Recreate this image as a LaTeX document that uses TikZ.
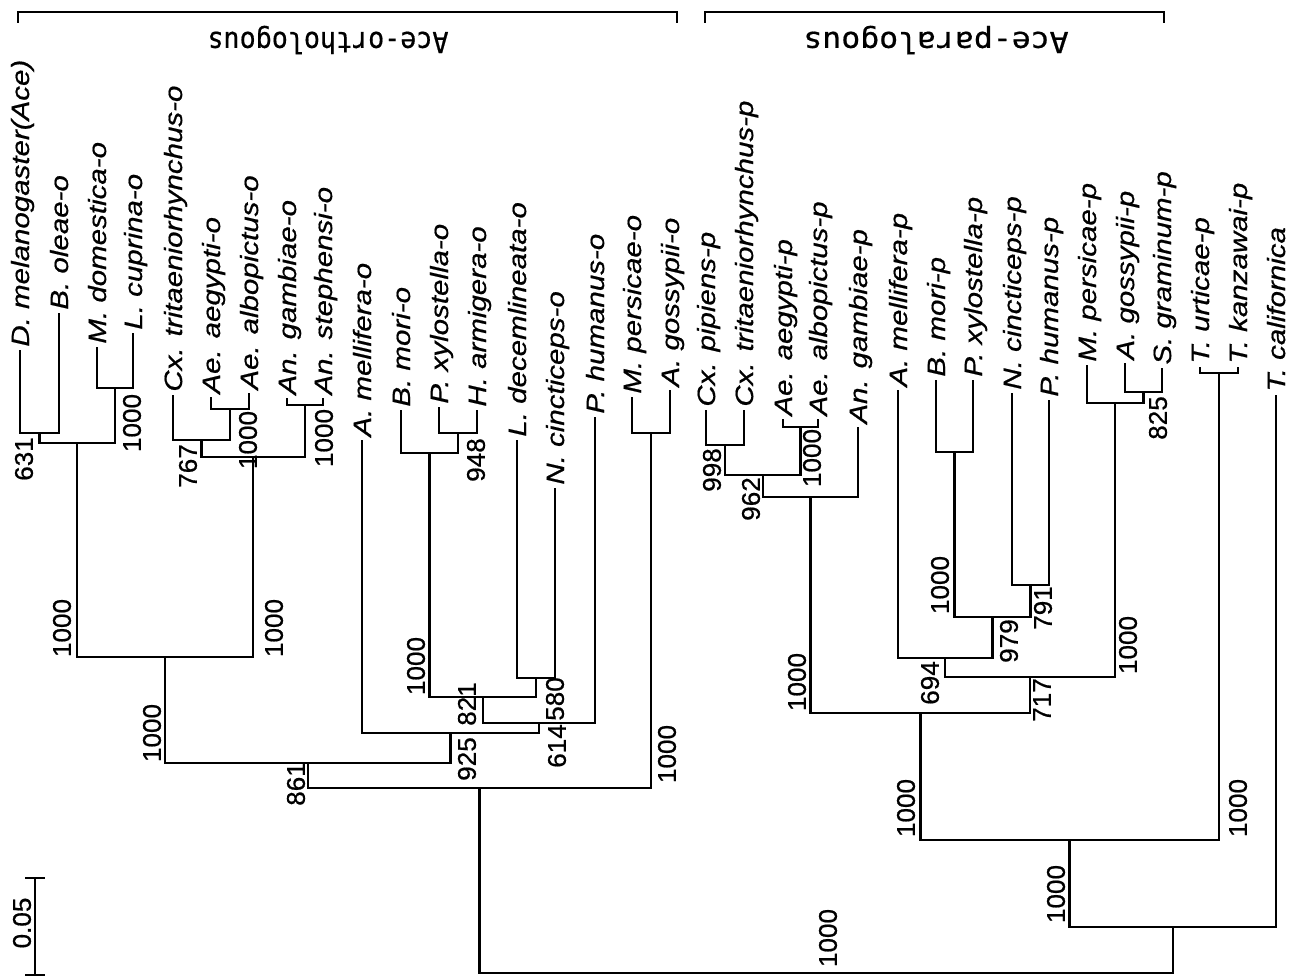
\documentclass[tikz,border=0pt]{standalone}
\usepackage{fontspec}
\setmainfont{Liberation Sans}
\newfontfamily\labfam{Liberation Sans}[FakeBold=0.6]
\newfontfamily\monofam{DejaVu Sans Mono}[FakeBold=0.6]
\usetikzlibrary{calc}
\newcommand\spfont{\labfam\fontsize{12.5}{14}\selectfont\itshape}
\newcommand\numfont{\labfam\fontsize{12.8}{14}\selectfont}
\newcommand\splab[1]{\scalebox{1.18}[1]{#1}}
\newcommand\numtxt[1]{\scalebox{1.02}[1]{#1}}
\newcommand\sptip[4]{%
  \coordinate (#1) at (#2,#3);
  \node[sp] (#1-lab) at (#1) {\splab{#4}};
}
\newcommand\joinclade[4]{%
  \path (#2 |- 0,#4) coordinate (#1-a) (#3 |- 0,#4) coordinate (#1-b);
  \draw[branch] (#2) -- (#1-a) -- (#1-b) -- (#3);
  \coordinate (#1) at ($(#1-a)!0.5!(#1-b)$);
}
\tikzset{
  branch/.style={line width=1.2pt, line join=miter},
  sp/.style={rotate=90, anchor=west, inner sep=1.5pt, text height=9pt, text depth=0pt, font=\spfont},
  num/.style={rotate=90, inner sep=0pt, font=\numfont},
  head/.style={rotate=180, inner sep=0pt, font=\monofam\fontsize{14.5}{16}\selectfont},
}
\begin{document}
\begin{tikzpicture}[x=0.5pt,y=-0.5pt]
\useasboundingbox (0,0) rectangle (1300,979);
% ---------- ortho tips
\sptip{oDmel}{20}{350}{D. melanogaster(Ace)}
\sptip{oBole}{59}{313}{B. oleae-o}
\sptip{oMdom}{97}{347}{M. domestica-o}
\sptip{oLcup}{133}{333}{L. cuprina-o}
\sptip{oCxtr}{173}{395}{Cx. tritaeniorhynchus-o}
\sptip{oAeae}{211}{397}{Ae. aegypti-o}
\sptip{oAeal}{249}{393}{Ae. albopictus-o}
\sptip{oAnga}{287}{398}{An. gambiae-o}
\sptip{oAnst}{323}{398}{An. stephensi-o}
\sptip{oAmel}{362}{440}{A. mellifera-o}
\sptip{oBmor}{401}{410}{B. mori-o}
\sptip{oPxyl}{439}{407}{P. xylostella-o}
\sptip{oHarm}{477}{410}{H. armigera-o}
\sptip{oLdec}{517}{440}{L. decemlineata-o}
\sptip{oNcin}{555}{488}{N. cincticeps-o}
\sptip{oPhum}{595}{417}{P. humanus-o}
\sptip{oMper}{632}{397}{M. persicae-o}
\sptip{oAgos}{670}{390}{A. gossypii-o}
% ---------- para tips
\sptip{pCxpi}{706}{410}{Cx. pipiens-p}
\sptip{pCxtr}{744}{410}{Cx. tritaeniorhynchus-p}
\sptip{pAeae}{783}{419}{Ae. aegypti-p}
\sptip{pAeal}{818}{419}{Ae. albopictus-p}
\sptip{pAnga}{858}{427}{An. gambiae-p}
\sptip{pAmel}{898}{390}{A. mellifera-p}
\sptip{pBmor}{936}{380}{B. mori-p}
\sptip{pPxyl}{973}{380}{P. xylostella-p}
\sptip{pNcin}{1012}{393}{N. cincticeps-p}
\sptip{pPhum}{1049}{400}{P. humanus-p}
\sptip{pMper}{1087}{365}{M. persicae-p}
\sptip{pAgos}{1125}{363}{A. gossypii-p}
\sptip{pSgra}{1162}{368}{S. graminum-p}
\sptip{pTurt}{1200}{367}{T. urticae-p}
\sptip{pTkan}{1238}{367}{T. kanzawai-p}
\sptip{pTcal}{1276}{395}{T. californica}
% ---------- ortho clades
\joinclade{o1}{oDmel}{oBole}{433}
\joinclade{o2}{oMdom}{oLcup}{388}
\joinclade{o3}{o1}{o2}{443}
\joinclade{o4}{oAeae}{oAeal}{409}
\joinclade{o5}{oCxtr}{o4}{440}
\joinclade{o6}{oAnga}{oAnst}{405}
\joinclade{o7}{o5}{o6}{457}
\joinclade{o8}{o3}{o7}{657}
\joinclade{o9}{oPxyl}{oHarm}{433}
\joinclade{o10}{oBmor}{o9}{453}
\joinclade{o11}{oLdec}{oNcin}{678}
\joinclade{o12}{o10}{o11}{697}
\joinclade{o13}{o12}{oPhum}{723}
\joinclade{o14}{oAmel}{o13}{733}
\joinclade{o15}{o8}{o14}{763}
\joinclade{o16}{oMper}{oAgos}{433}
\joinclade{o17}{o15}{o16}{788}
% ---------- para clades
\joinclade{p1}{pCxpi}{pCxtr}{445}
\joinclade{p2}{pAeae}{pAeal}{427}
\joinclade{p3}{p1}{p2}{475}
\joinclade{p4}{p3}{pAnga}{497}
\joinclade{p5}{pBmor}{pPxyl}{452}
\joinclade{p6}{pNcin}{pPhum}{585}
\joinclade{p7}{p5}{p6}{617}
\joinclade{p8}{pAmel}{p7}{658}
\joinclade{p9}{pAgos}{pSgra}{392}
\joinclade{p10}{pMper}{p9}{403}
\joinclade{p11}{p8}{p10}{677}
\joinclade{p12}{p4}{p11}{713}
\joinclade{p13}{pTurt}{pTkan}{373}
\joinclade{p14}{p12}{p13}{840}
\joinclade{p15}{p14}{pTcal}{927}
\joinclade{root}{o17}{p15}{973}
% ---------- bootstrap values (ortho)
\node[num] (b1) at (24,459) {\numtxt{631}};
\node[num] (b2) at (132,423) {\numtxt{1000}};
\node[num] (b3) at (188,466) {\numtxt{767}};
\node[num] (b4) at (248,440) {\numtxt{1000}};
\node[num] (b5) at (324,438) {\numtxt{1000}};
\node[num] (b6) at (62,628) {\numtxt{1000}};
\node[num] (b7) at (274,628) {\numtxt{1000}};
\node[num] (b8) at (152,733) {\numtxt{1000}};
\node[num] (b9) at (296,784) {\numtxt{861}};
\node[num] (b10) at (467,759) {\numtxt{925}};
\node[num] (b11) at (476,460) {\numtxt{948}};
\node[num] (b12) at (416,666) {\numtxt{1000}};
\node[num] (b13) at (467,704) {\numtxt{821}};
\node[num] (b14) at (555,699) {\numtxt{580}};
\node[num] (b15) at (557,746) {\numtxt{614}};
\node[num] (b16) at (667,754) {\numtxt{1000}};
% ---------- bootstrap values (para)
\node[num] (c1) at (712,470) {\numtxt{998}};
\node[num] (c2) at (812,458) {\numtxt{1000}};
\node[num] (c3) at (751,499) {\numtxt{962}};
\node[num] (c4) at (797,682) {\numtxt{1000}};
\node[num] (c5) at (940,585) {\numtxt{1000}};
\node[num] (c6) at (1043,608) {\numtxt{791}};
\node[num] (c7) at (1009,641) {\numtxt{979}};
\node[num] (c8) at (930,683) {\numtxt{694}};
\node[num] (c9) at (1042,700) {\numtxt{717}};
\node[num] (c10) at (1158,418) {\numtxt{825}};
\node[num] (c11) at (1128,645) {\numtxt{1000}};
\node[num] (c12) at (906,808) {\numtxt{1000}};
\node[num] (c13) at (1238,808) {\numtxt{1000}};
\node[num] (c14) at (1056,894) {\numtxt{1000}};
\node[num] (c15) at (828,938) {\numtxt{1000}};
% ---------- group brackets
\coordinate (gOa) at (18,23); \coordinate (gOb) at (677,23);
\coordinate (gPa) at (705,23); \coordinate (gPb) at (1164,23);
\draw[branch] (gOa) -- (gOa |- 0,12) -- (gOb |- 0,12) -- (gOb);
\draw[branch] (gPa) -- (gPa |- 0,12) -- (gPb |- 0,12) -- (gPb);
\node[head] (hO) at (328,40) {\scalebox{0.92}[1]{Ace-orthologous}};
\node[head] (hP) at (936,40) {\scalebox{1.085}[1]{Ace-paralogous}};
% ---------- scale bar
\coordinate (s1) at (35,878); \coordinate (s2) at (35,975);
\draw[branch] (s1) -- (s2);
\draw[branch] ([xshift=-5pt]s1) -- ([xshift=5pt]s1);
\draw[branch] ([xshift=-5pt]s2) -- ([xshift=5pt]s2);
\node[num] (sl) at (22,923) {\numtxt{0.05}};
\end{tikzpicture}
\end{document}
